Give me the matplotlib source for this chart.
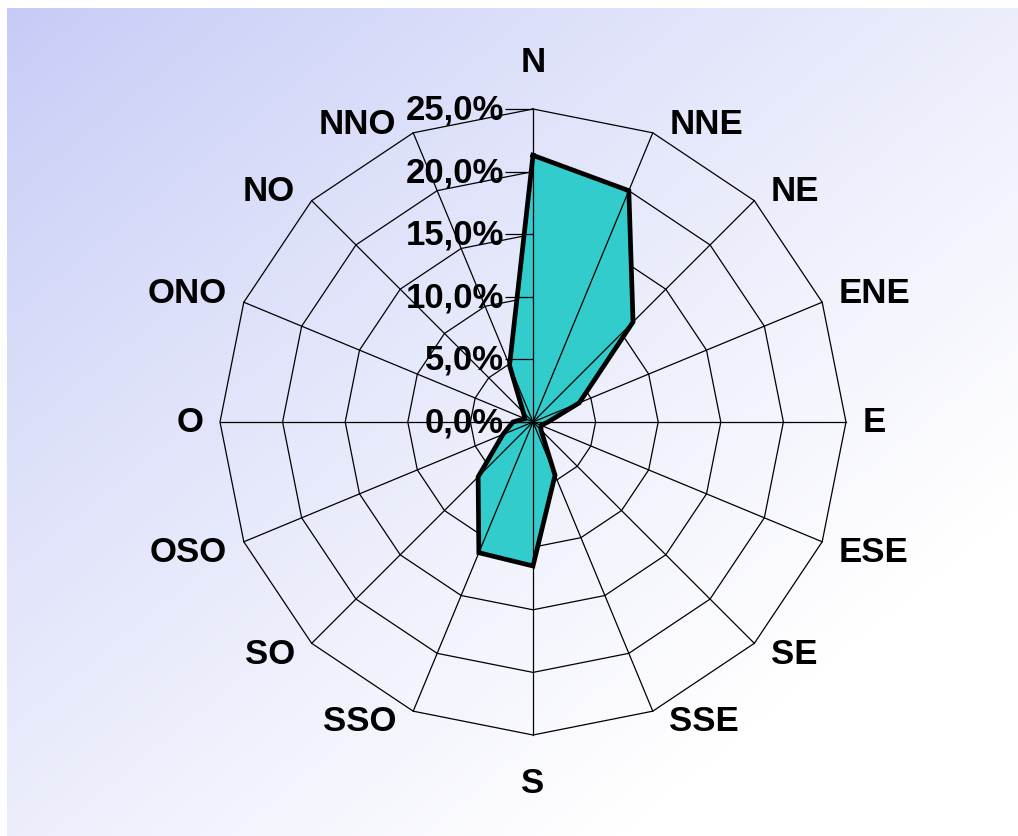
import numpy as np
import matplotlib
matplotlib.use('Agg')
import matplotlib.pyplot as plt

# wind direction frequencies (%)
directions = ['N', 'NNE', 'NE', 'ENE', 'E', 'ESE', 'SE', 'SSE',
              'S', 'SSO', 'SO', 'OSO', 'O', 'ONO', 'NO', 'NNO']
frequency = [21.3, 20.0, 11.3, 4.0, 1.2, 0.7, 0.9, 4.6,
             11.5, 11.3, 6.2, 2.6, 1.6, 0.7, 1.1, 4.9]
rings = [0, 5, 10, 15, 20, 25]
ring_labels = ['0,0%', '5,0%', '10,0%', '15,0%', '20,0%', '25,0%']

plt.rcParams['font.family'] = ['Liberation Sans', 'DejaVu Sans']

W, H = 1018, 837
fig = plt.figure(figsize=(W / 100, H / 100), dpi=100)
fig.patch.set_facecolor('white')

# soft diagonal gradient behind the chart
bg = fig.add_axes([7 / W, 0, (W - 7) / W, (H - 9) / H])
yy, xx = np.mgrid[0:1:200j, 0:1:240j]
s = np.clip((xx + yy) / 1.6, 0, 1) ** 0.85
c0 = np.array([197, 203, 246]) / 255
img = c0 + (1 - c0) * s[..., None]
bg.imshow(img, aspect='auto', interpolation='bilinear')
bg.axis('off')

# radar axes
R = 313
cx, cy = 533, H - 423
ax = fig.add_axes([(cx - R) / W, (cy - R) / H, 2 * R / W, 2 * R / H], projection='polar')
ax.set_theta_zero_location('N')
ax.set_theta_direction(-1)
ax.set_ylim(0, 25)
ax.axis('off')

theta = np.linspace(0, 2 * np.pi, len(directions), endpoint=False)
theta_c = np.append(theta, theta[0])
vals_c = np.append(frequency, frequency[0])

for r in rings[1:]:
    ax.plot(theta_c, [r] * len(theta_c), color='black', lw=0.9, zorder=1, clip_on=False)

ax.fill(theta_c, vals_c, color='#33cccc', zorder=2, clip_on=False)

for t in theta:
    ax.plot([t, t], [0, 25], color='black', lw=0.9, zorder=3, clip_on=False)

ax.plot(theta_c, vals_c, color='black', lw=3.4, zorder=4, solid_joinstyle='miter', clip_on=False)

# value axis along north
ax.plot([0] * len(rings), rings, linestyle='none', marker=0, markersize=20,
        mew=0.9, color='black', zorder=3, clip_on=False)
for r, lab in zip(rings, ring_labels):
    ax.annotate(lab, xy=(0, r), xytext=(-21, 0), textcoords='offset points',
                ha='right', va='center', fontsize=25, fontweight='bold', zorder=5)

# compass labels
for t, name in zip(theta, directions):
    sn, cs = np.sin(t), np.cos(t)
    if abs(sn) < 0.1:
        ha = 'center'
        va = 'bottom' if cs > 0 else 'top'
        off = (0, 22 * np.sign(cs))
    else:
        ha = 'left' if sn > 0 else 'right'
        va = 'center'
        off = (12 * np.sign(sn), 7 * np.sign(round(cs, 3)))
    ax.annotate(name, xy=(t, 25), xytext=off, textcoords='offset points',
                ha=ha, va=va, fontsize=25, fontweight='bold', zorder=5)

fig.savefig('out.png', dpi=100)
